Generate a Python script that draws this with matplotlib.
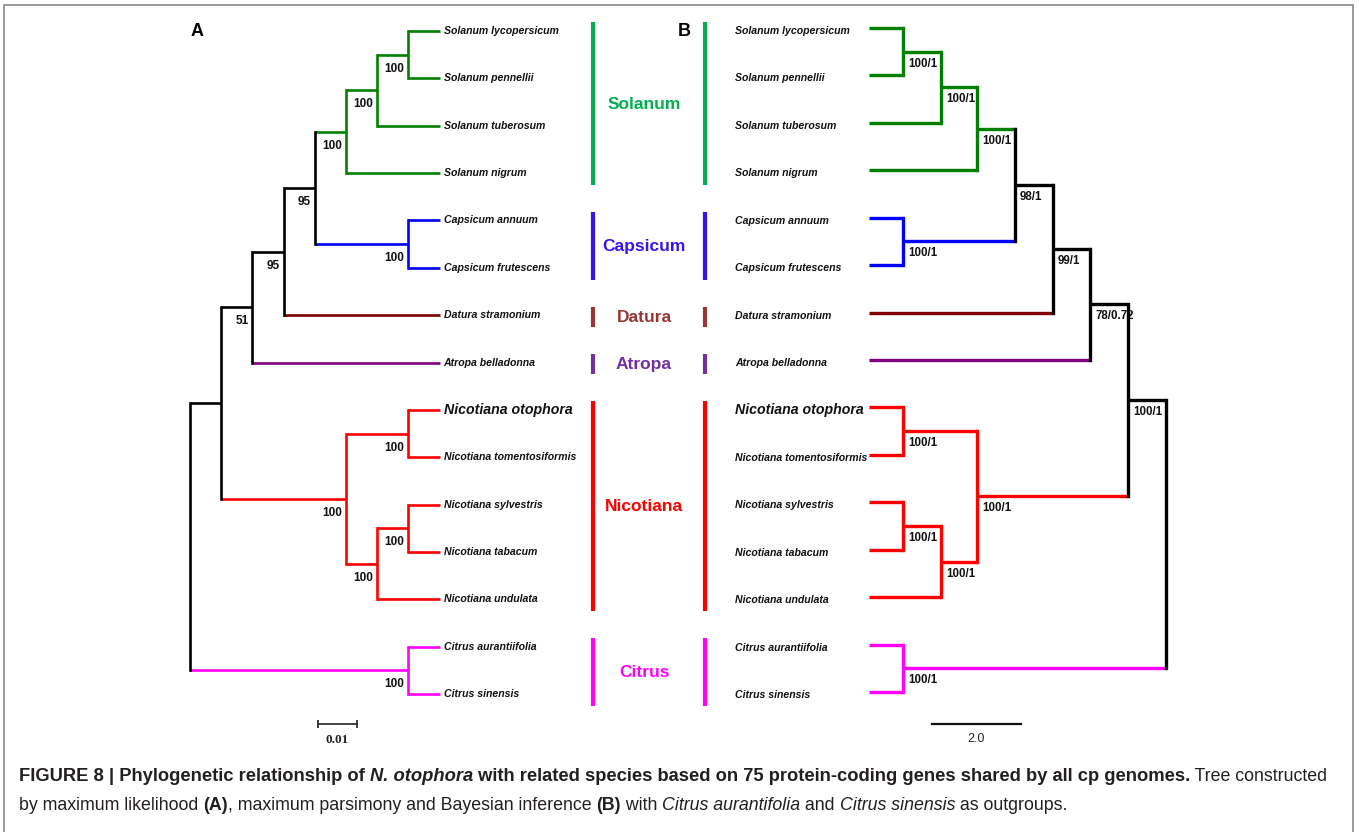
import matplotlib
matplotlib.use("Agg")
import matplotlib.pyplot as plt
from matplotlib.transforms import blended_transform_factory
from matplotlib.patches import Rectangle

plt.rcParams['font.family'] = ['Liberation Sans', 'DejaVu Sans']

W, H = 1359, 832

# maximum likelihood tree (A) and MP / Bayesian tree (B), drawn as cladograms
ml_tree = ("((((((((Solanum_lycopersicum:0.008,Solanum_pennellii:0.008)100:0.008,"
           "Solanum_tuberosum:0.016)100:0.008,Solanum_nigrum:0.024)100:0.008,"
           "(Capsicum_annuum:0.008,Capsicum_frutescens:0.008)100:0.024)95:0.008,"
           "Datura_stramonium:0.040)95:0.008,Atropa_belladonna:0.048)51:0.008,"
           "((Nicotiana_otophora:0.008,Nicotiana_tomentosiformis:0.008)100:0.016,"
           "((Nicotiana_sylvestris:0.008,Nicotiana_tabacum:0.008)100:0.008,"
           "Nicotiana_undulata:0.016)100:0.008)100:0.032):0.008,"
           "(Citrus_aurantiifolia:0.008,Citrus_sinensis:0.008)100:0.056);")

bayes_tree = ("((((((((Solanum_lycopersicum:0.77,Solanum_pennellii:0.77)100/1:0.85,"
              "Solanum_tuberosum:1.62)100/1:0.8,Solanum_nigrum:2.42)100/1:0.85,"
              "(Capsicum_annuum:0.77,Capsicum_frutescens:0.77)100/1:2.5)98/1:0.85,"
              "Datura_stramonium:4.12)99/1:0.85,Atropa_belladonna:4.97)78/0.72:0.85,"
              "((Nicotiana_otophora:0.77,Nicotiana_tomentosiformis:0.77)100/1:1.65,"
              "((Nicotiana_sylvestris:0.77,Nicotiana_tabacum:0.77)100/1:0.85,"
              "Nicotiana_undulata:1.62)100/1:0.8)100/1:3.4)100/1:0.85,"
              "(Citrus_aurantiifolia:0.77,Citrus_sinensis:0.77)100/1:5.9);")

tip_names = ["Solanum lycopersicum", "Solanum pennellii", "Solanum tuberosum",
             "Solanum nigrum", "Capsicum annuum", "Capsicum frutescens",
             "Datura stramonium", "Atropa belladonna", "Nicotiana otophora",
             "Nicotiana tomentosiformis", "Nicotiana sylvestris", "Nicotiana tabacum",
             "Nicotiana undulata", "Citrus aurantiifolia", "Citrus sinensis"]
focal_tip = "Nicotiana otophora"

groups = ["Solanum", "Capsicum", "Datura", "Atropa", "Nicotiana", "Citrus"]
group_first = [0, 4, 6, 7, 8, 13]
group_last = [3, 5, 6, 7, 12, 14]
group_colors = ["#00b050", "#3a12f0", "#953735", "#7030a0", "#ff0000", "#ff00ff"]
branch_colors = ["#008000", "#0000ff", "#800000", "#800080", "#ff0000", "#ff00ff"]

scale_a = 0.01
scale_b = 2.0


def parse_newick(s):
    pos = 0

    def node():
        nonlocal pos
        children = []
        if s[pos] == '(':
            pos += 1
            while True:
                children.append(node())
                if s[pos] == ',':
                    pos += 1
                    continue
                pos += 1
                break
        start = pos
        while s[pos] not in ':,();':
            pos += 1
        name = s[start:pos].replace('_', ' ')
        length = 0.0
        if s[pos] == ':':
            pos += 1
            start = pos
            while s[pos] not in ',();':
                pos += 1
            length = float(s[start:pos])
        return {"name": name, "len": length, "children": children}

    return node()


def tip_group(name):
    i = tip_names.index(name)
    for g in range(len(groups)):
        if group_first[g] <= i <= group_last[g]:
            return g


def layout(node, x0=0.0):
    node["x"] = x0 + node["len"]
    if not node["children"]:
        node["y"] = tip_names.index(node["name"])
        node["groups"] = {tip_group(node["name"])}
    else:
        for c in node["children"]:
            layout(c, node["x"])
        node["y"] = (node["children"][0]["y"] + node["children"][-1]["y"]) / 2
        node["groups"] = set().union(*[c["groups"] for c in node["children"]])
    if len(node["groups"]) == 1:
        node["color"] = branch_colors[next(iter(node["groups"]))]
    else:
        node["color"] = "black"
    return node


def draw_tree(ax, node, lw, ha, off, fs):
    kids = node["children"]
    if not kids:
        return
    ys = [c["y"] for c in kids]
    ax.plot([node["x"]] * 2, [min(ys), max(ys)], color=node["color"], lw=lw,
            solid_capstyle='projecting', zorder=4)
    for c in kids:
        ax.plot([node["x"], c["x"]], [c["y"], c["y"]], color=c["color"], lw=lw,
                solid_capstyle='butt', zorder=3)
        draw_tree(ax, c, lw, ha, off, fs)
    if node["name"]:
        ax.annotate(node["name"], (node["x"], node["y"]), xytext=off,
                    textcoords='offset pixels', ha=ha, va='center',
                    fontsize=fs, fontweight='bold', color='#111111', zorder=2)


def tips(node):
    if not node["children"]:
        return [node]
    out = []
    for c in node["children"]:
        out += tips(c)
    return out


fig = plt.figure(figsize=(W / 100, H / 100), dpi=100)
fig.patch.set_facecolor('white')

# panel A: root at 190 px, 0.01 = 39 px, first tip row at 31 px
axA = fig.add_axes([0, 0, 1, 1])
a_root, a_ppu, a_top, a_row = 190, 3900, 31, 47.36
axA.set_xlim(-a_root / a_ppu, (W - a_root) / a_ppu)
axA.set_ylim((H - a_top) / a_row, -a_top / a_row)
axA.axis('off')

# panel B: root at 1166 px on the right, 2.0 = 89 px
axB = fig.add_axes([0, 0, 1, 1])
b_root, b_ppu, b_top, b_row = 1166, 44.5, 28, 47.43
axB.set_xlim(b_root / b_ppu, -(W - b_root) / b_ppu)
axB.set_ylim((H - b_top) / b_row, -b_top / b_row)
axB.axis('off')
axB.patch.set_visible(False)

tree_a = layout(parse_newick(ml_tree))
tree_b = layout(parse_newick(bayes_tree))

draw_tree(axA, tree_a, 1.9, 'right', (-4, -14), 8.5)
draw_tree(axB, tree_b, 2.4, 'left', (5, -12), 8.3)

for t in tips(tree_a):
    big = t["name"] == focal_tip
    axA.annotate(t["name"], (t["x"], t["y"]), xytext=(4, 0), textcoords='offset pixels',
                 ha='left', va='center', fontsize=10.2 if big else 7.6,
                 fontweight='bold', fontstyle='italic', color='#111111')
for t in tips(tree_b):
    big = t["name"] == focal_tip
    axB.annotate(t["name"], (t["x"], t["y"]), xytext=(-134, -3), textcoords='offset pixels',
                 ha='left', va='center', fontsize=10.2 if big else 7.6,
                 fontweight='bold', fontstyle='italic', color='#111111')

# clade bars between the two trees
bar_tr = blended_transform_factory(fig.transFigure, axA.transData)
for g, name in enumerate(groups):
    y0 = group_first[g] - 0.18
    y1 = group_last[g] + 0.25
    for bx in (593, 705):
        axA.plot([bx / W, bx / W], [y0, y1], color=group_colors[g], lw=3,
                 solid_capstyle='butt', transform=bar_tr, zorder=2)
    ym = (group_first[g] + group_last[g]) / 2 + 0.05
    axA.text(644 / W, ym, name, transform=bar_tr, ha='center', va='center',
             fontsize=12.5, fontweight='bold', color=group_colors[g])

# scale bars
sa_x0, sa_row = 0.0328, 14.63
axA.plot([sa_x0, sa_x0 + scale_a], [sa_row, sa_row], color='#333333', lw=1.3,
         marker='|', markersize=6, markeredgewidth=1.3)
axA.text(sa_x0 + scale_a / 2, sa_row + 0.33, "%.2f" % scale_a, ha='center', va='center',
         fontsize=9.5, fontweight='bold', family='Liberation Serif', color='#222222')

sb_x0, sb_row = 3.26, 14.67
axB.plot([sb_x0, sb_x0 + scale_b], [sb_row, sb_row], color='#111111', lw=1.6)
axB.text(sb_x0 + scale_b / 2, sb_row + 0.33, "%.1f" % scale_b, ha='center', va='center',
         fontsize=9, color='#222222')

fig.text(197 / W, 1 - 31 / H, "A", ha='center', va='center', fontsize=13, fontweight='bold')
fig.text(684 / W, 1 - 31 / H, "B", ha='center', va='center', fontsize=13, fontweight='bold')

# caption with mixed styles, laid out run by run: (text, weight, style, size)
caption = [
    [("FIGURE 8 | Phylogenetic relationship of ", 'bold', 'normal', 13.25),
     ("N. otophora", 'bold', 'italic', 13.25),
     (" with related species based on 75 protein-coding genes shared by all cp genomes.", 'bold', 'normal', 13.25),
     (" Tree constructed", 'normal', 'normal', 12.8)],
    [("by maximum likelihood ", 'normal', 'normal', 12.8),
     ("(A)", 'bold', 'normal', 12.8),
     (", maximum parsimony and Bayesian inference ", 'normal', 'normal', 12.8),
     ("(B)", 'bold', 'normal', 12.8),
     (" with ", 'normal', 'normal', 12.8),
     ("Citrus aurantifolia", 'normal', 'italic', 12.8),
     (" and ", 'normal', 'normal', 12.8),
     ("Citrus sinensis", 'normal', 'italic', 12.8),
     (" as outgroups.", 'normal', 'normal', 12.8)],
]
renderer = fig.canvas.get_renderer()
for line, base in zip(caption, (781, 810)):
    x = 19
    for txt, wt, st, fs in line:
        t = fig.text(x / W, 1 - base / H, txt, ha='left', va='baseline', fontsize=fs,
                     fontweight=wt, fontstyle=st, color='#231f20')
        x += t.get_window_extent(renderer).width

fig.patches.append(Rectangle((4 / W, -0.05), 1349 / W, 1.05 - 5 / H, transform=fig.transFigure,
                             fill=False, edgecolor='#8a8a8a', lw=1.2))

fig.savefig("out.png", dpi=100)
